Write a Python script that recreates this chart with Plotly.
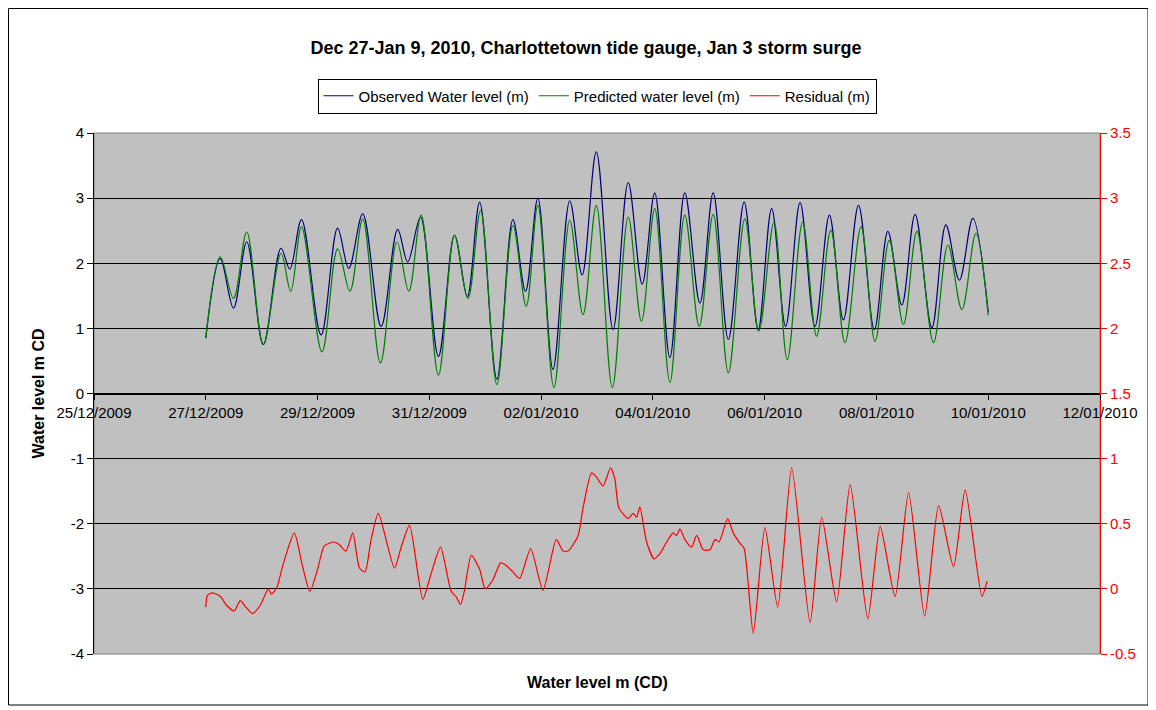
import pandas as pd
import plotly.graph_objects as go

# ---------------- data ----------------
start = pd.Timestamp("2009-12-27 00:00")

obs_hours = [0, 6.2, 11.9, 17.6, 24.7, 32.3, 36.1, 41.1, 49.5, 56.6, 61.4, 67.4, 75.3,
             82.4, 86.7, 92.2, 99.9, 106.8, 112.3, 117.6, 125.0, 131.9, 137.3, 142.6,
             149.1, 156.3, 161.6, 167.7, 174.9, 181.4, 187.4, 192.8, 199.3, 205.7, 212.2,
             217.9, 224.4, 231.2, 237.2, 243.0, 249.0, 255.2, 261.6, 267.8, 273.8, 280.3,
             287.1, 292.9, 298.9, 304.6, 311.8, 317.8, 323.6, 329.4, 336.0]
obs_level = [0.85, 2.07, 1.31, 2.33, 0.75, 2.23, 1.91, 2.67, 0.90, 2.54, 1.92, 2.76, 1.03,
             2.52, 2.02, 2.71, 0.57, 2.43, 1.49, 2.94, 0.22, 2.67, 1.57, 3.00,
             0.37, 2.96, 1.82, 3.71, 0.98, 3.24, 1.68, 3.08, 0.55, 3.08, 1.39,
             3.08, 0.83, 2.94, 0.98, 2.84, 1.03, 2.93, 1.03, 2.74, 1.13, 2.89,
             0.98, 2.49, 1.36, 2.75, 1.01, 2.59, 1.74, 2.69, 1.25]

pred_hours = [0, 6.2, 11.9, 17.6, 24.7, 32.3, 36.5, 41.1, 49.9, 56.6, 61.9, 67.4, 75.0,
              82.1, 87.2, 92.5, 99.9, 106.8, 112.6, 118.0, 125.0, 131.9, 137.6, 142.6,
              149.5, 156.3, 162.0, 167.7, 174.6, 181.4, 187.1, 192.8, 199.3, 205.7, 211.9,
              217.9, 224.4, 231.5, 237.5, 244.0, 249.7, 256.3, 262.3, 268.4, 274.5, 281.4,
              287.4, 293.5, 299.6, 305.4, 312.5, 318.7, 324.7, 330.7, 336.0]
pred_level = [0.85, 2.10, 1.46, 2.48, 0.75, 2.15, 1.57, 2.56, 0.64, 2.22, 1.57, 2.68, 0.47,
              2.33, 1.57, 2.74, 0.28, 2.43, 1.46, 2.81, 0.14, 2.58, 1.34, 2.89,
              0.09, 2.66, 1.21, 2.89, 0.09, 2.71, 1.11, 2.84, 0.17, 2.74, 1.03,
              2.75, 0.32, 2.68, 0.96, 2.63, 0.52, 2.63, 0.88, 2.51, 0.78, 2.56,
              0.80, 2.35, 1.06, 2.49, 0.78, 2.28, 1.29, 2.46, 1.20]

res_hours = [0, 0.7, 2.9, 6.4, 8.6, 12.2, 14.8, 17.2, 20.1, 23.6, 26.8, 28.2, 30.5, 33.4,
             38.0, 41.6, 44.7, 48.0, 50.9, 55.2, 57.3, 60.2, 63.1, 66.0, 68.4, 71.0, 74.1,
             81.0, 83.9, 87.5, 93.2, 96.8, 100.8, 105.4, 107.5, 109.4, 111.1, 114.0, 117.6,
             120.0, 123.3, 126.6, 129.0, 131.9, 134.8, 139.5, 144.8, 150.5, 153.4, 155.6,
             159.9, 162.0, 165.6, 167.7, 170.6, 173.8, 175.6, 177.4, 181.4, 183.5, 185.0,
             186.4, 189.3, 192.5, 195.0, 197.9, 200.7, 202.2, 203.6, 205.7, 208.6, 210.8,
             213.6, 216.5, 218.7, 220.4, 224.1, 226.5, 229.4, 231.2, 235.1, 240.1, 245.6,
             251.6, 259.5, 264.5, 270.9, 276.7, 284.3, 289.6, 296.0, 301.8, 308.7, 314.7,
             321.1, 326.1, 333.3, 335.5]
res_level = [-0.14, -0.05, -0.03, -0.06, -0.12, -0.17, -0.09, -0.14, -0.19, -0.12, 0.00, -0.04,
             0.01, 0.20, 0.43, 0.17, -0.02, 0.15, 0.33, 0.36, 0.34, 0.29, 0.43, 0.16, 0.13,
             0.38, 0.58, 0.16, 0.32, 0.49, -0.08, 0.12, 0.32, -0.02, -0.06, -0.12, -0.01,
             0.26, 0.15, 0.00, 0.07, 0.20, 0.18, 0.13, 0.08, 0.31, -0.01, 0.38, 0.29, 0.29,
             0.41, 0.62, 0.89, 0.86, 0.79, 0.93, 0.85, 0.62, 0.54, 0.58, 0.55, 0.63, 0.36,
             0.23, 0.27, 0.36, 0.43, 0.41, 0.46, 0.38, 0.32, 0.41, 0.30, 0.30, 0.38, 0.36,
             0.54, 0.43, 0.35, 0.31, -0.34, 0.47, -0.14, 0.93, -0.26, 0.55, -0.10, 0.80,
             -0.23, 0.48, -0.06, 0.74, -0.21, 0.64, 0.17, 0.76, -0.06, 0.06]

left_ticks = [-4, -3, -2, -1, 0, 1, 2, 3, 4]
left_labels = ["-4", "-3", "-2", "-1", "0", "1", "2", "3", "4"]
right_ticks = [-0.5, 0, 0.5, 1, 1.5, 2, 2.5, 3, 3.5]
right_labels = ["-0.5", "0", "0.5", "1", "1.5", "2", "2.5", "3", "3.5"]

title_text = "Dec 27-Jan 9, 2010, Charlottetown tide gauge, Jan 3 storm surge"
x_title = "Water level m (CD)"
y_title = "Water level m CD"

# ---------------- figure ----------------
def to_time(hours):
    return start + pd.to_timedelta(hours, unit="h")

FONT = "Liberation Sans, Arial, sans-serif"

# The page body adds an 8px margin, so the figure is drawn 8px smaller/offset.
W, H = 1148, 702
L, R, T, B = 86, 56, 125, 56
PW, PH = W - L - R, H - T - B

fig = go.Figure()
fig.add_trace(go.Scatter(
    x=to_time(obs_hours), y=obs_level, name="Observed Water level (m)",
    mode="lines", line=dict(color="#000080", width=1.2, shape="spline", smoothing=1.0),
))
fig.add_trace(go.Scatter(
    x=to_time(pred_hours), y=pred_level, name="Predicted water level (m)",
    mode="lines", line=dict(color="#008000", width=1.2, shape="spline", smoothing=1.0),
))
fig.add_trace(go.Scatter(
    x=to_time(res_hours), y=res_level, name="Residual (m)", yaxis="y2",
    mode="lines", line=dict(color="#FF0000", width=1.2, shape="spline", smoothing=0.6),
))

fig.update_layout(
    width=W, height=H,
    margin=dict(l=L, r=R, t=T, b=B, autoexpand=False),
    paper_bgcolor="white",
    plot_bgcolor="#C0C0C0",
    font=dict(family=FONT, size=15, color="black"),
    showlegend=True,
    title=dict(text="<b>" + title_text + "</b>", x=(586 - 8) / W, xref="container",
               xanchor="center", y=1 - 40 / H, yref="container", yanchor="middle",
               font=dict(family=FONT, size=18, color="black")),
    legend=dict(orientation="h", x=0.5, xanchor="center", y=1 + 37 / PH, yanchor="middle",
                bgcolor="white", bordercolor="black", borderwidth=1,
                font=dict(family=FONT, size=15, color="black"),
                itemwidth=30, traceorder="normal"),
    xaxis=dict(
        type="date",
        range=["2009-12-25", "2010-01-12"],
        tick0="2009-12-25", dtick=2 * 86400000,
        tickformat="%d/%m/%Y",
        anchor="free", position=0.5,
        showline=True, linecolor="black", linewidth=1,
        ticks="outside", ticklen=5, tickcolor="black",
        showgrid=False, zeroline=False,
        tickfont=dict(family=FONT, size=15, color="black"),
    ),
    yaxis=dict(
        range=[-4, 4], tickvals=left_ticks, ticktext=left_labels,
        showgrid=True, gridcolor="black", gridwidth=1,
        zeroline=True, zerolinecolor="black", zerolinewidth=1,
        showline=True, linecolor="black", linewidth=1,
        ticks="outside", ticklen=6, tickcolor="black",
        tickfont=dict(family=FONT, size=15, color="black"),
    ),
    yaxis2=dict(
        range=[-0.5, 3.5], tickvals=right_ticks, ticktext=right_labels,
        overlaying="y", side="right", anchor="x",
        showgrid=False, zeroline=False,
        showline=True, linecolor="red", linewidth=1,
        ticks="outside", ticklen=6, tickcolor="red",
        tickfont=dict(family=FONT, size=15, color="red"),
    ),
)

# plot-area frame and outer chart border
fig.add_shape(type="rect", xref="paper", yref="paper", x0=0, x1=1, y0=0, y1=1,
              line=dict(color="#808080", width=1), layer="below")
fig.add_shape(type="rect", xref="paper", yref="paper",
              x0=(0.5 - L) / PW, x1=(1140 - L) / PW,
              y0=(T + PH - 697) / PH, y1=(T + PH - 0.5) / PH,
              line=dict(color="black", width=1))

fig.add_annotation(text="<b>" + x_title + "</b>", xref="paper", yref="paper",
                   x=0.5, y=-(674 - T - PH) / PH, yanchor="middle", showarrow=False,
                   font=dict(family=FONT, size=16, color="black"))
fig.add_annotation(text="<b>" + y_title + "</b>", xref="paper", yref="paper",
                   x=(30 - L) / PW, y=0.5, xanchor="center", yanchor="middle",
                   textangle=-90, showarrow=False,
                   font=dict(family=FONT, size=16, color="black"))

fig.write_html("out.html")
